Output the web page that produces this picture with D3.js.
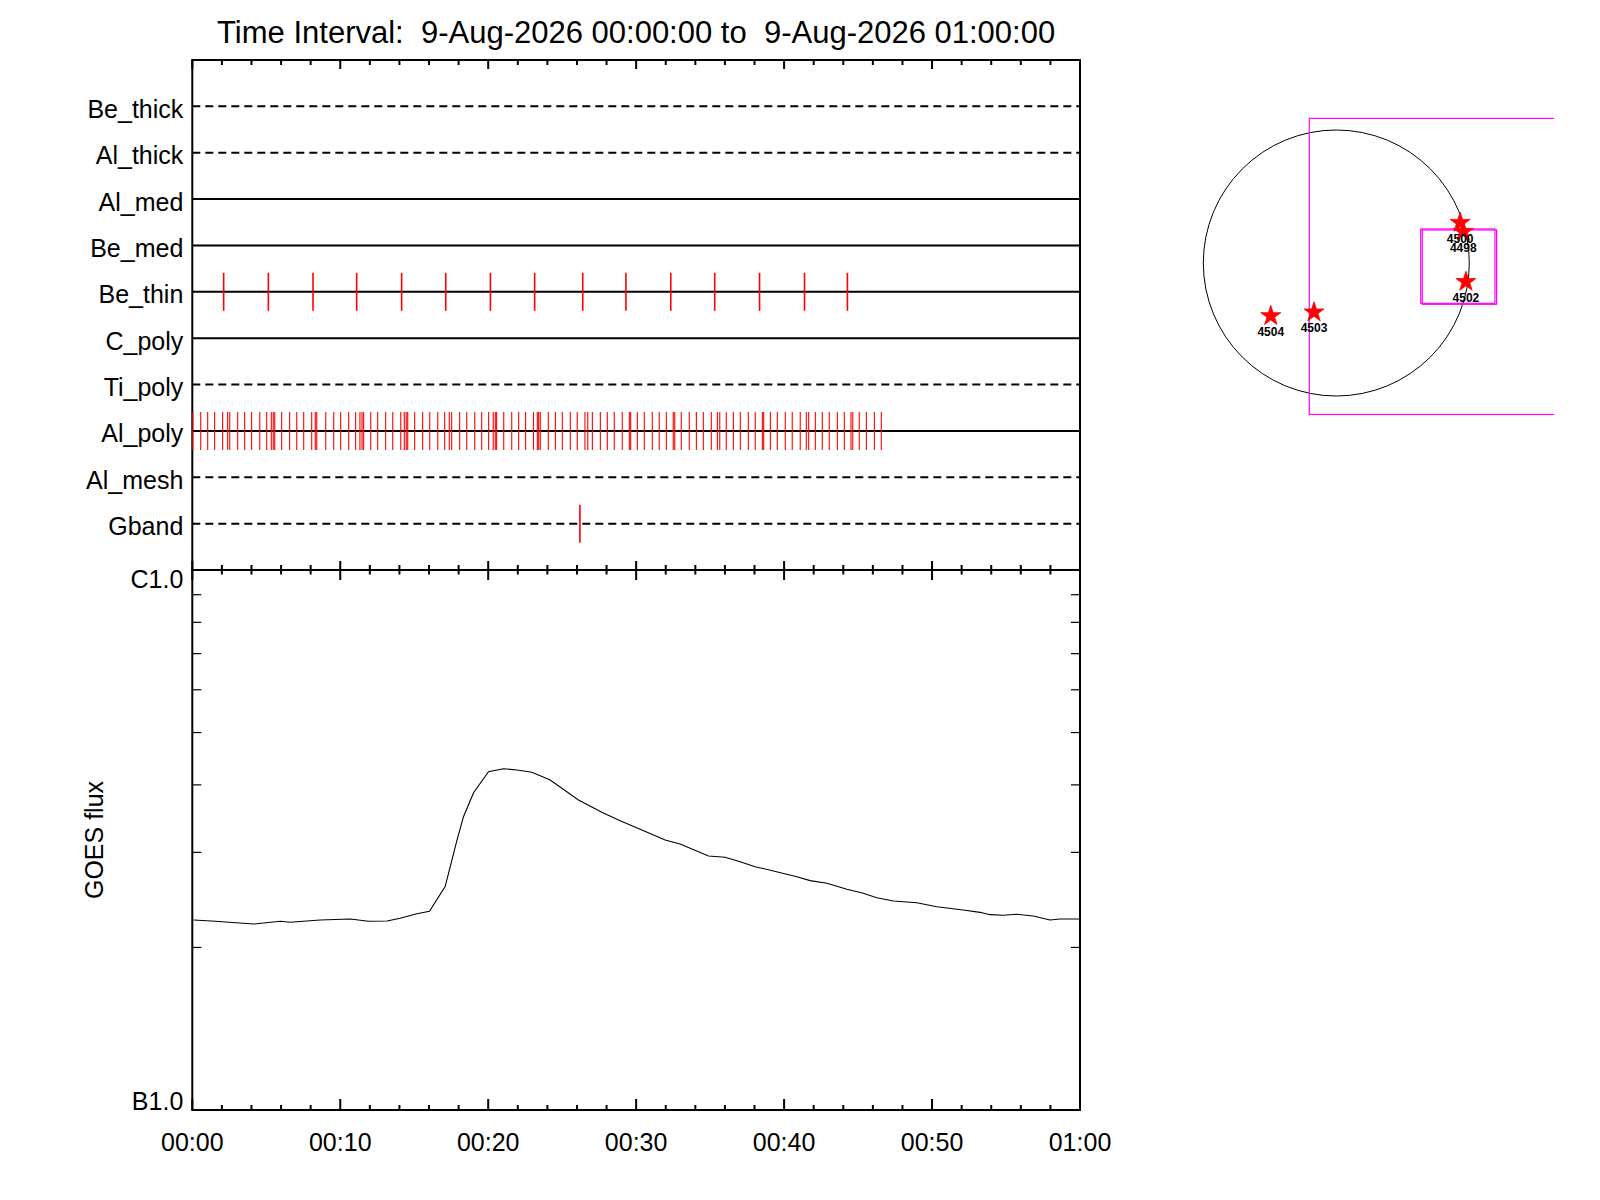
<!DOCTYPE html>
<html><head><meta charset="utf-8">
<script src="https://cdn.jsdelivr.net/npm/d3@7"></script>
<style>
body{margin:0;background:#fff;}
svg{display:block;font-family:"Liberation Sans",Arial,Helvetica,sans-serif;}
</style></head><body>
<svg id="chart" width="1600" height="1200"></svg>
<script>
// ---------------- DATA ----------------
const titleText = "Time Interval:  9-Aug-2026 00:00:00 to  9-Aug-2026 01:00:00";
const channels = ["Be_thick","Al_thick","Al_med","Be_med","Be_thin","C_poly","Ti_poly","Al_poly","Al_mesh","Gband"];
const dashedChannels = ["Be_thick","Al_thick","Ti_poly","Al_mesh","Gband"];

// event times, minutes after 00:00 UT
const beThinTimes = [2.12,5.14,8.16,11.11,14.15,17.13,20.15,23.14,26.39,29.31,32.34,35.31,38.34,41.38,44.28];
const alPolyTimes = [0.00,0.57,1.04,1.51,2.05,2.39,2.53,3.07,3.54,4.01,4.56,5.03,5.34,5.47,5.57,6.04,6.58,7.06,7.53,8.07,8.31,8.41,9.02,9.56,
  10.03,10.57,11.04,11.33,11.47,11.58,12.06,12.53,13.07,13.55,14.09,14.33,14.46,14.56,15.03,15.57,16.05,16.59,17.06,17.37,17.53,18.07,18.55,19.09,19.56,
  20.03,20.34,20.48,20.57,21.05,21.59,22.06,22.53,23.06,23.32,23.41,23.52,24.06,24.54,25.01,25.55,26.02,26.54,26.73,27.04,27.58,28.05,28.52,29.06,29.54,29.63,
  30.08,30.55,31.09,31.56,32.04,32.51,32.61,33.05,33.59,34.07,34.54,35.08,35.49,35.65,36.09,36.57,37.04,37.58,38.05,38.53,38.62,39.07,39.54,
  40.08,40.55,41.09,41.50,41.66,42.11,42.58,43.05,43.60,44.07,44.52,44.64,45.08,45.56,46.10,46.57];
const gbandTimes = [26.2];

// GOES flux (W/m^2)
const goesTimes = [0.09,1.55,4.14,5.95,6.62,7.52,8.65,10.68,11.91,13.16,14.05,15.18,16.03,17.09,17.89,18.33,19.01,20.02,21.03,21.94,22.95,24.19,
  26.10,27.68,28.92,30.27,31.96,32.97,34.89,36.01,37.03,38.04,39.28,40.86,41.76,42.89,44.24,45.36,46.26,47.39,48.97,50.32,52.11,53.24,53.92,54.82,
  55.72,56.84,57.97,58.65,60.0];
const goesFlux = [2.248,2.236,2.210,2.236,2.227,2.236,2.248,2.258,2.236,2.239,2.265,2.309,2.333,2.592,3.162,3.493,3.869,4.232,4.286,4.263,4.221,4.084,
  3.751,3.559,3.434,3.310,3.162,3.109,2.953,2.938,2.883,2.822,2.771,2.704,2.659,2.630,2.563,2.519,2.472,2.438,2.420,2.379,2.346,2.323,2.300,2.294,
  2.304,2.287,2.248,2.258,2.258].map(v => v * 1e-7);
const fluxTickLabels = [{v:1e-7, t:"B1.0"}, {v:1e-6, t:"C1.0"}];

// Solar disk map (arcsec)
const solarRadius = 950;
const regionIds = ["4500","4498","4502","4504","4503"];
const regionX = [885, 907, 926, -468, -159];
const regionY = [288, 224, -134, -378, -352];
const fovBig = {x0:-193, x1:2000, y0:-1082, y1:1033};
const fovSmall = [{x0:603,x1:1133,y0:-288,y1:243},{x0:614,x1:1145,y0:-295,y1:236}];

// ---------------- LAYOUT ----------------
const svg = d3.select("#chart");
const L = 192.3, R = 1080, T = 60, M = 570, B = 1110;
const font = 25;
const t0 = Date.UTC(2026,7,9,0,0,0);
const toDate = m => new Date(t0 + m*60000);

const x = d3.scaleUtc().domain([toDate(0), toDate(60)]).range([L, R]);
const yc = d3.scalePoint().domain(channels).range([T, M]).padding(1);
const y = d3.scaleLog().domain([1e-7, 1e-6]).range([B, M]);

// title
svg.append("text").attr("x", (L+R)/2).attr("y", 43).attr("text-anchor","middle")
  .attr("font-size", 31).style("white-space","pre").text(titleText);

// ---- Top panel: channel lines
const gTop = svg.append("g");
gTop.selectAll("line.ch").data(channels).join("line")
  .attr("x1", L).attr("x2", R).attr("y1", d => yc(d)).attr("y2", d => yc(d))
  .attr("stroke","#000").attr("stroke-width",2)
  .attr("stroke-dasharray", d => dashedChannels.includes(d) ? "8,5" : null);
gTop.selectAll("text.ch").data(channels).join("text")
  .attr("x", L - 9).attr("y", d => yc(d) + 11.5).attr("text-anchor","end")
  .attr("font-size", font).text(d => d);

// ---- Time ticks
const minorT = x.ticks(d3.utcMinute.every(2));
function timeTicks(yBase, dir, majLen, minLen){
  svg.append("g").selectAll("line").data(minorT).join("line")
    .attr("x1", d => x(d)).attr("x2", d => x(d))
    .attr("y1", yBase)
    .attr("y2", d => yBase + dir * (d.getUTCMinutes() % 10 === 0 ? majLen : minLen))
    .attr("stroke","#000").attr("stroke-width",2);
}
timeTicks(T, 1, 9, 5);
timeTicks(M, -1, 9, 5);
timeTicks(M, 1, 10, 4.5);
timeTicks(B, -1, 11, 5);

// time labels
const fmt = d3.utcFormat("%H:%M");
svg.append("g").selectAll("text").data(x.ticks(d3.utcMinute.every(10))).join("text")
  .attr("x", d => x(d)).attr("y", B + 41).attr("text-anchor","middle")
  .attr("font-size", font).text(d => fmt(d));

// ---- Bottom panel: flux
const logMinor = [2,3,4,5,6,7,8,9].map(k => k*1e-7);
svg.append("g").selectAll("line").data(logMinor).join("line")
  .attr("x1", L).attr("x2", L + 9).attr("y1", d => y(d)).attr("y2", d => y(d))
  .attr("stroke","#000").attr("stroke-width",1.2);
svg.append("g").selectAll("line").data(logMinor).join("line")
  .attr("x1", R).attr("x2", R - 9).attr("y1", d => y(d)).attr("y2", d => y(d))
  .attr("stroke","#000").attr("stroke-width",1.2);
svg.append("g").selectAll("text").data(fluxTickLabels).join("text")
  .attr("x", L - 9).attr("y", d => y(d.v)).attr("dy", d => d.v === 1e-6 ? "0.72em" : "0")
  .attr("text-anchor","end").attr("font-size", font).text(d => d.t);

svg.append("text").attr("transform", `translate(103,${(M+B)/2}) rotate(-90)`)
  .attr("text-anchor","middle").attr("font-size", font).text("GOES flux");

const line = d3.line().x((d,i) => x(toDate(goesTimes[i]))).y(d => y(d));
svg.append("path").datum(goesFlux).attr("d", line)
  .attr("fill","none").attr("stroke","#000").attr("stroke-width",1.1);

// frames
svg.append("rect").attr("x",L).attr("y",T).attr("width",R-L).attr("height",M-T)
  .attr("fill","none").attr("stroke","#000").attr("stroke-width",2);
svg.append("rect").attr("x",L).attr("y",M).attr("width",R-L).attr("height",B-M)
  .attr("fill","none").attr("stroke","#000").attr("stroke-width",2);

// event ticks (drawn above frame)
const events = [].concat(
  beThinTimes.map(t => ({ch:"Be_thin", t, w:1.6})),
  alPolyTimes.map(t => ({ch:"Al_poly", t, w:1.1})),
  gbandTimes.map(t => ({ch:"Gband", t, w:1.6}))
);
svg.append("g").selectAll("line.ev").data(events).join("line")
  .attr("x1", d => x(toDate(d.t)) + (d.t === 0 ? 0.5 : 0)).attr("x2", d => x(toDate(d.t)) + (d.t === 0 ? 0.5 : 0))
  .attr("y1", d => yc(d.ch) - 19).attr("y2", d => yc(d.ch) + 19)
  .attr("stroke","#ff0000").attr("stroke-width", d => d.w);

// ---- Solar map
const sx = d3.scaleLinear().domain([-solarRadius, solarRadius]).range([1203.3, 1469.3]);
const sy = d3.scaleLinear().domain([-solarRadius, solarRadius]).range([396, 130]);
svg.append("defs").append("clipPath").attr("id","mapclip")
  .append("rect").attr("x",1150).attr("y",100).attr("width",404).attr("height",340);
const gMap = svg.append("g").attr("clip-path","url(#mapclip)");
gMap.append("circle").attr("cx", sx(0)).attr("cy", sy(0)).attr("r", sx(solarRadius)-sx(0))
  .attr("fill","none").attr("stroke","#000").attr("stroke-width",1);
gMap.append("rect").attr("x", sx(fovBig.x0)).attr("y", sy(fovBig.y1))
  .attr("width", sx(fovBig.x1)-sx(fovBig.x0)).attr("height", sy(fovBig.y0)-sy(fovBig.y1))
  .attr("fill","none").attr("stroke","#ff00ff").attr("stroke-width",1.2);
gMap.selectAll("rect.fs").data(fovSmall).join("rect")
  .attr("x", d => sx(d.x0)).attr("y", d => sy(d.y1))
  .attr("width", d => sx(d.x1)-sx(d.x0)).attr("height", d => sy(d.y0)-sy(d.y1))
  .attr("fill","none").attr("stroke","#ff00ff").attr("stroke-width",1.2);
const star = d3.symbol(d3.symbolStar, 125);
gMap.selectAll("path.st").data(regionIds).join("path")
  .attr("transform", (d,i) => `translate(${sx(regionX[i])},${sy(regionY[i])})`)
  .attr("d", star).attr("fill","#ff0000").attr("stroke","#ff0000").attr("stroke-width",0.8);
gMap.selectAll("text.st").data(regionIds).join("text")
  .attr("x", (d,i) => sx(regionX[i])).attr("y", (d,i) => sy(regionY[i]) + 20)
  .attr("text-anchor","middle").attr("font-size",12).attr("font-weight","bold").text(d => d);
</script>
</body></html>
